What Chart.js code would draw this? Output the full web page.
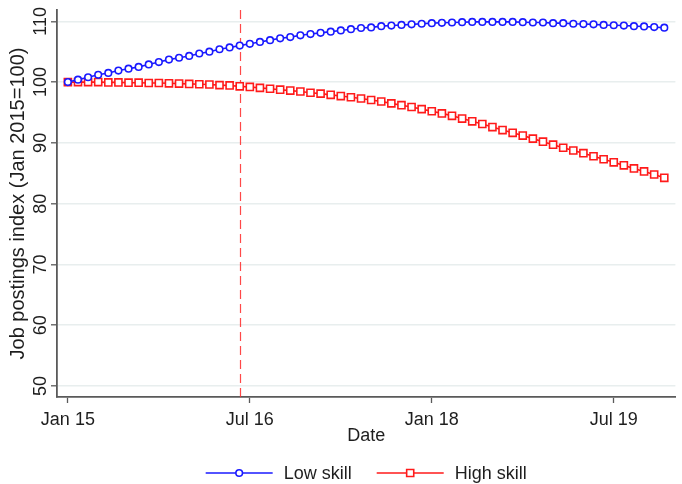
<!DOCTYPE html>
<html>
<head>
<meta charset="utf-8">
<script src="https://cdn.jsdelivr.net/npm/chart.js@4.4.1/dist/chart.umd.min.js"></script>
<style>
  html, body { margin: 0; padding: 0; background: #fff; }
  #wrap { width: 682px; height: 484px; }
</style>
</head>
<body>
<div id="wrap"><canvas id="c" width="682" height="484"></canvas></div>
<script>
// Monthly job postings index, Jan 2015 (month 0) to Dec 2019 (month 59)
const lowSkill = [
  100.0, 100.4, 100.8, 101.2, 101.5, 101.9, 102.2, 102.5, 102.9, 103.3,
  103.7, 104.0, 104.3, 104.7, 105.0, 105.4, 105.7, 106.0, 106.3, 106.6,
  106.9, 107.2, 107.4, 107.7, 107.9, 108.1, 108.3, 108.5, 108.7, 108.9,
  109.0, 109.2, 109.3, 109.4, 109.5, 109.6, 109.7, 109.75, 109.8, 109.85,
  109.9, 109.9, 109.9, 109.9, 109.9, 109.85, 109.8, 109.8, 109.7, 109.7,
  109.6, 109.55, 109.5, 109.4, 109.35, 109.3, 109.2, 109.15, 109.05, 108.95
];
const highSkill = [
  100.0, 100.0, 100.0, 100.0, 99.95, 99.95, 99.9, 99.9, 99.85, 99.85,
  99.8, 99.75, 99.7, 99.65, 99.6, 99.5, 99.45, 99.3, 99.2, 99.05,
  98.9, 98.75, 98.6, 98.45, 98.25, 98.1, 97.9, 97.7, 97.5, 97.3,
  97.05, 96.8, 96.5, 96.2, 95.9, 95.55, 95.2, 94.85, 94.45, 94.0,
  93.55, 93.1, 92.6, 92.1, 91.65, 91.2, 90.7, 90.2, 89.7, 89.2,
  88.75, 88.3, 87.8, 87.3, 86.8, 86.3, 85.8, 85.3, 84.8, 84.25
];
const seriesNames = ['Low skill', 'High skill'];
const tickMonths = [0, 18, 36, 54];
const tickLabels = ['Jan 15', 'Jul 16', 'Jan 18', 'Jul 19'];
const yTicks = [50, 60, 70, 80, 90, 100, 110];
const policyMonth = 17;   // Jun 2016

const FONT = "'Liberation Sans', Arial, Helvetica, sans-serif";
const TEXT = '#1e1e1e';
const AXIS = '#5a5a5a';
const BLUE = '#1a1aff';
const RED = '#ff1a1a';

const toPoints = arr => arr.map((v, i) => ({ x: i, y: v }));

// Rotated y tick labels (read bottom to top)
const yLabels = {
  id: 'yLabels',
  afterDraw(chart) {
    const ctx = chart.ctx, y = chart.scales.y;
    ctx.save();
    ctx.fillStyle = TEXT;
    ctx.font = '18px ' + FONT;
    ctx.textAlign = 'center';
    ctx.textBaseline = 'middle';
    yTicks.forEach(v => {
      ctx.save();
      ctx.translate(41, y.getPixelForValue(v));
      ctx.rotate(-Math.PI / 2);
      ctx.fillText(String(v), 0, 0);
      ctx.restore();
    });
    ctx.restore();
  }
};

// Dashed vertical marker at the policy month
const policyLine = {
  id: 'policyLine',
  beforeDatasetsDraw(chart) {
    const { ctx, chartArea, scales } = chart;
    const px = Math.round(scales.x.getPixelForValue(policyMonth)) + 0.5;
    ctx.save();
    ctx.strokeStyle = 'rgba(255,40,40,0.85)';
    ctx.lineWidth = 1.2;
    ctx.setLineDash([9, 5]);
    ctx.beginPath();
    ctx.moveTo(px, chartArea.top);
    ctx.lineTo(px, chartArea.bottom);
    ctx.stroke();
    ctx.restore();
  }
};

// Legend below the axis: line with marker, then label
const lineLegend = {
  id: 'lineLegend',
  afterDraw(chart) {
    const { ctx, chartArea } = chart;
    const yMid = 473, lineLen = 67, textGap = 11, itemGap = 25;
    ctx.save();
    ctx.font = '18px ' + FONT;
    const widths = seriesNames.map(n => ctx.measureText(n).width);
    const total = widths.reduce((a, w) => a + lineLen + textGap + w, 0) + itemGap;
    let x = (chartArea.left + chartArea.right) / 2 - total / 2;
    chart.data.datasets.forEach((ds, i) => {
      ctx.strokeStyle = ds.borderColor;
      ctx.lineWidth = 1.6;
      ctx.beginPath();
      ctx.moveTo(x, yMid);
      ctx.lineTo(x + lineLen, yMid);
      ctx.stroke();
      ctx.fillStyle = '#fff';
      ctx.strokeStyle = ds.borderColor;
      ctx.lineWidth = ds.pointBorderWidth;
      ctx.beginPath();
      if (ds.pointStyle === 'circle') {
        ctx.arc(x + lineLen / 2, yMid, ds.pointRadius, 0, Math.PI * 2);
      } else {
        const s = Math.SQRT1_2 * ds.pointRadius;
        ctx.rect(x + lineLen / 2 - s, yMid - s, 2 * s, 2 * s);
      }
      ctx.fill();
      ctx.stroke();
      ctx.fillStyle = TEXT;
      ctx.textAlign = 'left';
      ctx.textBaseline = 'middle';
      ctx.fillText(seriesNames[i], x + lineLen + textGap, yMid + 1);
      x += lineLen + textGap + widths[i] + itemGap;
    });
    ctx.restore();
  }
};

new Chart(document.getElementById('c'), {
  type: 'line',
  data: {
    datasets: [
      {
        label: seriesNames[0],
        data: toPoints(lowSkill),
        borderColor: BLUE,
        borderWidth: 1.6,
        pointStyle: 'circle',
        pointRadius: 3.3,
        pointBorderWidth: 1.6,
        pointBackgroundColor: '#fff',
        pointBorderColor: BLUE,
        tension: 0
      },
      {
        label: seriesNames[1],
        data: toPoints(highSkill),
        borderColor: RED,
        borderWidth: 1.6,
        pointStyle: 'rect',
        pointRadius: 5,
        pointBorderWidth: 1.6,
        pointBackgroundColor: '#fff',
        pointBorderColor: RED,
        tension: 0
      }
    ]
  },
  options: {
    responsive: false,
    devicePixelRatio: 1,
    animation: false,
    layout: { padding: { top: 10, right: 0, bottom: 37, left: 0 } },
    plugins: { legend: { display: false }, tooltip: { enabled: false } },
    scales: {
      x: {
        type: 'linear',
        min: -1.076,
        max: 60.1,
        afterBuildTicks: s => { s.ticks = tickMonths.map(v => ({ value: v })); },
        afterFit: s => { s.height = 50; },
        ticks: {
          autoSkip: false,
          maxRotation: 0,
          padding: 6,
          color: TEXT,
          font: { family: FONT, size: 18 },
          callback: v => tickLabels[tickMonths.indexOf(v)]
        },
        grid: { drawOnChartArea: false, drawTicks: true, tickLength: 6, tickColor: AXIS, tickWidth: 1.3 },
        border: { color: AXIS, width: 1.8 },
        title: {
          display: true, text: 'Date', color: TEXT,
          font: { family: FONT, size: 18 }, padding: { top: 0, bottom: 0 }
        }
      },
      y: {
        min: 48.19,
        max: 111.86,
        afterBuildTicks: s => { s.ticks = yTicks.map(v => ({ value: v })); },
        afterFit: s => { s.width = 57; },
        ticks: { display: false },
        grid: {
          color: '#e8eeee', lineWidth: 1.6,
          drawTicks: true, tickLength: 6, tickColor: AXIS, tickWidth: 1.3
        },
        border: { color: AXIS, width: 1.8 },
        title: {
          display: true, text: 'Job postings index (Jan 2015=100)', color: TEXT,
          font: { family: FONT, size: 20 }, padding: { top: 6, bottom: 0 }
        }
      }
    }
  },
  plugins: [policyLine, yLabels, lineLegend]
});
</script>
</body>
</html>
